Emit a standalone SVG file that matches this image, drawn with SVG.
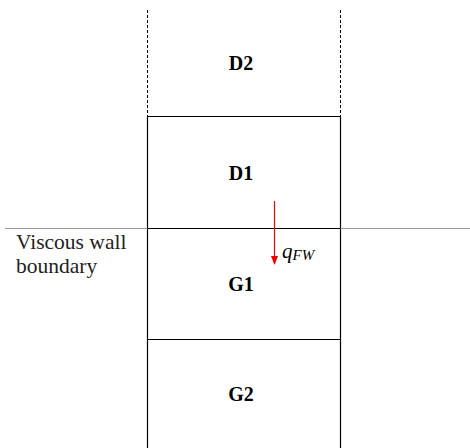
<svg xmlns="http://www.w3.org/2000/svg" width="470" height="448" viewBox="0 0 470 448">
<style>
.cell{fill:none;stroke:#000;stroke-width:1.2}
.lbl{font-family:'Liberation Serif','Times New Roman','DejaVu Serif',serif;font-weight:bold;font-size:20px;text-anchor:middle;fill:#000}
.txt{font-family:'Liberation Serif','Times New Roman','DejaVu Serif',serif;font-size:21.5px;fill:#222}
.q{font-family:'Liberation Serif','Times New Roman','DejaVu Serif',serif;font-style:italic;font-size:21px;fill:#000}
</style>
<defs>
<marker id="ah" markerWidth="9" markerHeight="8" refX="8" refY="4" orient="auto" markerUnits="userSpaceOnUse" viewBox="0 0 9 8">
<path d="M0,0.5 L9,4 L0,7.5 Z" fill="#e00"/>
</marker>
</defs>
<rect width="470" height="448" fill="#fff"/>
<g id="D2">
<line x1="147.5" y1="10" x2="147.5" y2="116.5" stroke="#000" stroke-width="1" stroke-dasharray="3,2"/>
<line x1="340.5" y1="10" x2="340.5" y2="116.5" stroke="#000" stroke-width="1" stroke-dasharray="3,2"/>
<text class="lbl" x="241" y="70">D2</text>
</g>
<g id="D1">
<path class="cell" d="M147.5,228.5 V116.5 H340.5 V228.5"/>
<text class="lbl" x="241" y="180">D1</text>
</g>
<g id="G1">
<path class="cell" d="M147.5,228.5 V339.5 M340.5,228.5 V339.5"/>
<text class="lbl" x="241" y="291">G1</text>
</g>
<g id="G2">
<path class="cell" d="M147.5,339.5 V448 M340.5,339.5 V448 M147.5,339.5 H340.5"/>
<text class="lbl" x="241" y="401">G2</text>
</g>
<g id="boundary">
<line x1="5" y1="228.5" x2="470" y2="228.5" stroke="#999" stroke-width="1"/>
<line x1="147.5" y1="228.5" x2="340.5" y2="228.5" stroke="#000" stroke-width="1.2"/>
<text class="txt" x="16" y="249">Viscous wall</text>
<text class="txt" x="16" y="273">boundary</text>
</g>
<g id="connectors">
<line x1="274.5" y1="201" x2="274.5" y2="264" stroke="#e00" stroke-width="1.2" marker-end="url(#ah)"/>
<text class="q" x="282" y="258">q<tspan font-size="15" dy="2">FW</tspan></text>
</g>
</svg>
